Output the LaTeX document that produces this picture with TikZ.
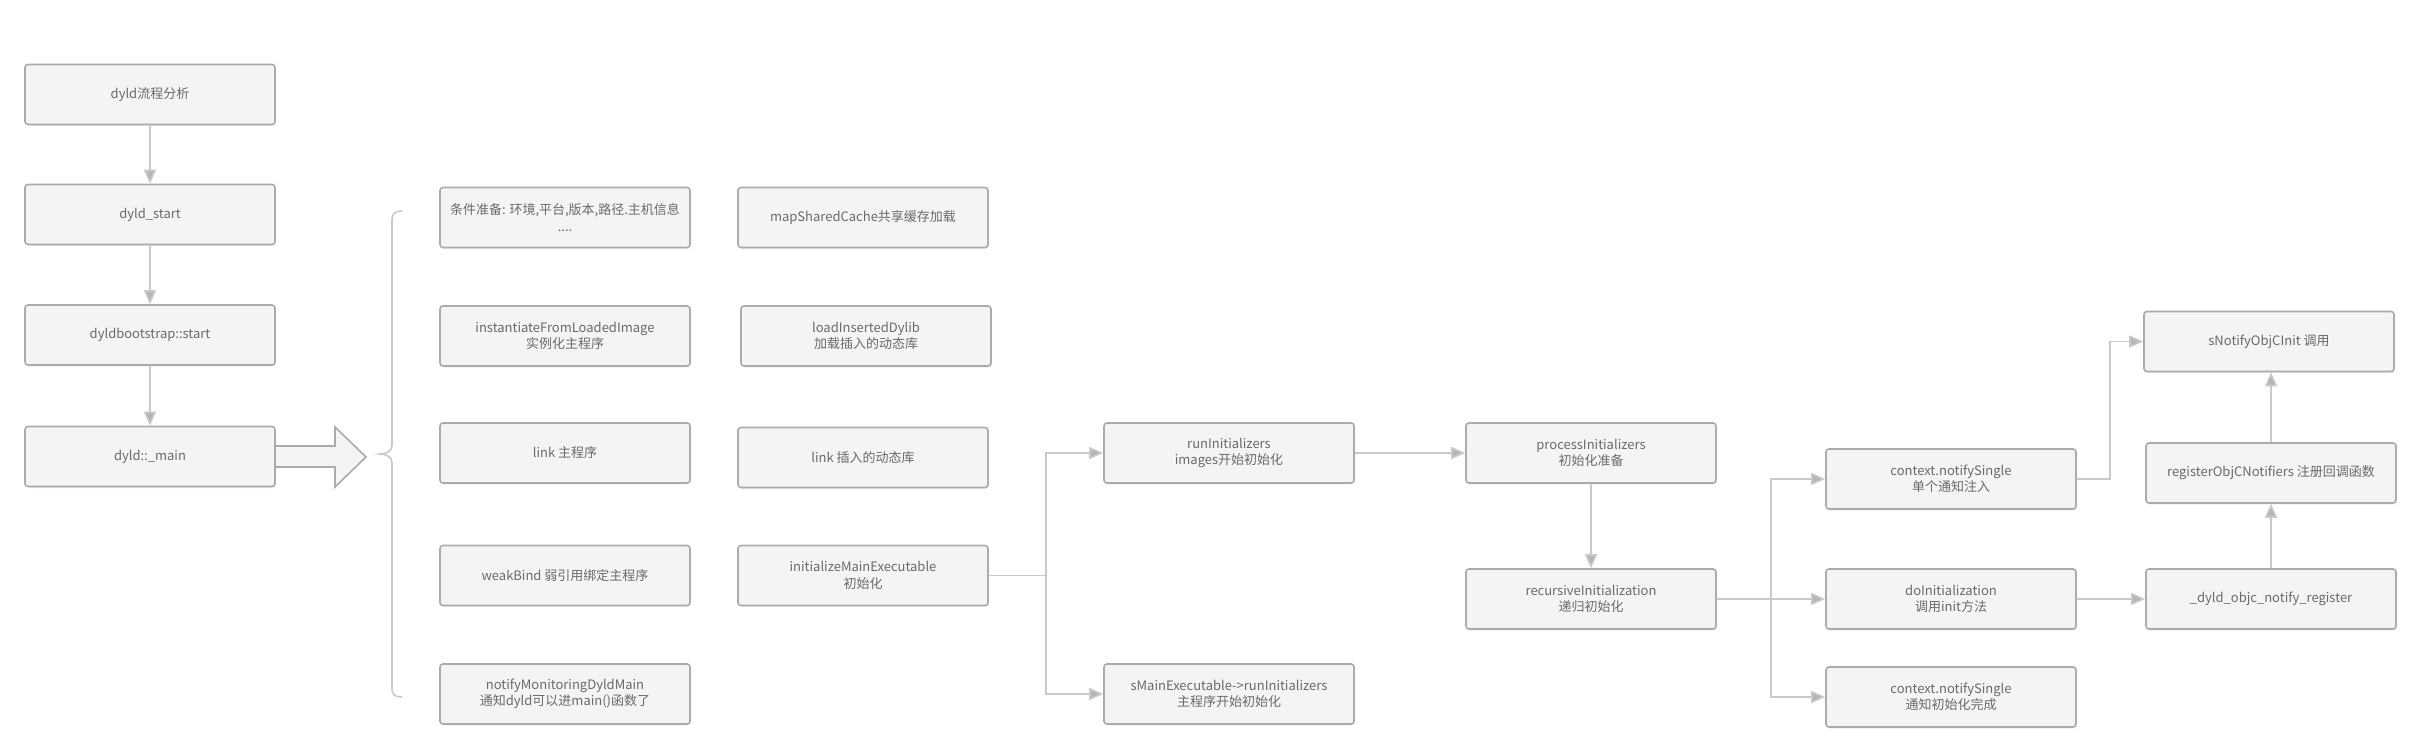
\documentclass[tikz,border=0pt]{standalone}
\usepackage{fontspec}
\setmainfont{Noto Sans CJK SC}
\usetikzlibrary{arrows.meta,shadows}
\definecolor{boxfill}{HTML}{F4F4F4}
\definecolor{boxedge}{HTML}{ABABAB}
\definecolor{boxtext}{HTML}{6A6A6A}
\definecolor{linkgray}{HTML}{C9C9C9}
\tikzset{
  flowbox/.style={draw=boxedge, fill=boxfill, line width=1.6pt, rounded corners=3pt,
    minimum width=250pt, minimum height=60pt, align=center, text=boxtext,
    font=\fontsize{13}{16.5}\selectfont,
    drop shadow={opacity=0.12, shadow xshift=1pt, shadow yshift=-1.5pt}},
  flowline/.style={draw=linkgray, line width=1.6pt,
    -{Triangle[length=14pt, width=12pt, fill=linkgray!90!black]}},
}
\begin{document}
\begin{tikzpicture}[x=1pt, y=-1pt]
    % 背景与边界
    \fill[white] (0,0) rectangle (2421,752);
    \useasboundingbox (0,0) rectangle (2421,752);
    % 左侧主流程
    \node[flowbox] (analyse) at (150,94.5) {dyld流程分析};
    \node[flowbox] (dstart) at (150,214.5) {dyld\_start};
    \node[flowbox] (boot) at (150,335) {dyldbootstrap::start};
    \node[flowbox] (dmain) at (150,456.5) {dyld::\_main};
    \foreach \a/\b in {analyse/dstart, dstart/boot, boot/dmain} {
        \draw[flowline] (\a) -- (\b);
    }
    % 空心大箭头
    \draw[boxedge, fill=boxfill, line width=1.6pt, line join=miter]
        (276,446) -- (335,446) -- (335,427) -- (366,457) -- (335,487)
        -- (335,467) -- (276,467);
    % 大括号
    \draw[linkgray, line width=1.6pt]
        (402,211) .. controls (395,211) and (392,213) .. (392,221) -- (392,445)
        .. controls (392,451) and (387,454) .. (380,454)
        .. controls (387,454) and (392,457) .. (392,463) -- (392,688)
        .. controls (392,695) and (395,697) .. (402,697);
    % _main 中的步骤
    \node[flowbox] (prep) at (565,217.5) {条件准备: 环境,平台,版本,路径.主机信息\\....};
    \node[flowbox] (inst) at (565,336) {instantiateFromLoadedImage\\实例化主程序};
    \node[flowbox] (linkmain) at (565,453) {link 主程序};
    \node[flowbox] (weak) at (565,575.5) {weakBind 弱引用绑定主程序};
    \node[flowbox] (monitor) at (565,694) {notifyMonitoringDyldMain\\通知dyld可以进main()函数了};
    \node[flowbox] (cache) at (863,217.5) {mapSharedCache共享缓存加载};
    \node[flowbox] (insert) at (866,336) {loadInsertedDylib\\加载插入的动态库};
    \node[flowbox] (linkdylib) at (863,457.5) {link 插入的动态库};
    \node[flowbox] (initmain) at (863,575.5) {initializeMainExecutable\\初始化};
    % 初始化流程
    \node[flowbox] (runinit) at (1229,453) {runInitializers\\images开始初始化};
    \node[flowbox] (smain) at (1229,694) {sMainExecutable->runInitializers\\主程序开始初始化};
    \node[flowbox] (procinit) at (1591,453) {processInitializers\\初始化准备};
    \node[flowbox] (recinit) at (1591,599) {recursiveInitialization\\递归初始化};
    \node[flowbox] (single) at (1951,479) {context.notifySingle\\单个通知注入};
    \node[flowbox] (doinit) at (1951,599) {doInitialization\\调用init方法};
    \node[flowbox] (done) at (1951,697) {context.notifySingle\\通知初始化完成};
    \node[flowbox] (objcinit) at (2269,341.5) {sNotifyObjCInit 调用};
    \node[flowbox] (register) at (2271,473) {registerObjCNotifiers 注册回调函数};
    \node[flowbox] (objcreg) at (2271,599) {\_dyld\_objc\_notify\_register};
    % 连线
    \coordinate (split1) at (1046,575.5);
    \coordinate (split2) at (1771,599);
    \coordinate (bend) at (2110,479);
    \draw[flowline] (initmain.east) -- (split1) |- (runinit.west);
    \draw[flowline] (split1) |- (smain.west);
    \draw[flowline] (runinit) -- (procinit);
    \draw[flowline] (procinit) -- (recinit);
    \draw[flowline] (recinit.east) -- (doinit.west);
    \draw[flowline] (split2) |- (single.west);
    \draw[flowline] (split2) |- (done.west);
    \draw[flowline] (single.east) -- (bend) |- (objcinit.west);
    \draw[flowline] (doinit) -- (objcreg);
    \draw[flowline] (objcreg) -- (register);
    \draw[flowline] (register.north) -- (register.north |- objcinit.south);
\end{tikzpicture}
\end{document}
